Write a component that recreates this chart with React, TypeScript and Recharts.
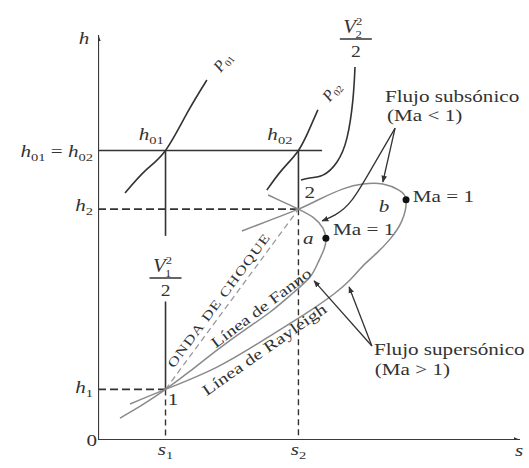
import React from 'react';
import { LineChart, Line, XAxis, YAxis, ReferenceLine, ReferenceDot } from 'recharts';

// States 1 (before the shock) and 2 (after it) on the h-s plane, arbitrary units
const s1 = 1.6;
const s2 = 4.75;
const h1 = 1.25;
const h2 = 5.7;
const h0 = 7.15; // stagnation enthalpy, h01 = h02
const hLineEnd = 5.31;

const fannoLine = [
  { s: 0.52, h: 0.54 }, { s: 1.04, h: 0.86 }, { s: 1.6, h: 1.25 }, { s: 2.18, h: 1.7 },
  { s: 2.82, h: 2.22 }, { s: 3.48, h: 2.72 }, { s: 4.08, h: 3.16 }, { s: 4.62, h: 3.63 },
  { s: 5.02, h: 4.02 }, { s: 5.21, h: 4.37 }, { s: 5.36, h: 4.72 }, { s: 5.4, h: 4.98 },
  { s: 5.33, h: 5.23 }, { s: 5.12, h: 5.48 }, { s: 4.75, h: 5.7 }, { s: 4.38, h: 5.88 },
  { s: 4.03, h: 6.05 },
];

const rayleighLine = [
  { s: 0.76, h: 0.89 }, { s: 1.6, h: 1.25 }, { s: 2.82, h: 1.8 }, { s: 4.0, h: 2.52 },
  { s: 5.02, h: 3.19 }, { s: 5.62, h: 3.63 }, { s: 5.97, h: 3.95 }, { s: 6.28, h: 4.3 },
  { s: 6.61, h: 4.62 }, { s: 6.92, h: 4.96 }, { s: 7.2, h: 5.41 }, { s: 7.3, h: 5.93 },
  { s: 7.13, h: 6.17 }, { s: 6.75, h: 6.32 }, { s: 6.28, h: 6.32 }, { s: 5.81, h: 6.2 },
  { s: 5.26, h: 5.95 }, { s: 4.75, h: 5.7 }, { s: 4.08, h: 5.43 }, { s: 3.41, h: 5.16 },
];

const p01Line = [
  { s: 0.64, h: 6.1 }, { s: 1.11, h: 6.64 }, { s: 1.6, h: 7.15 }, { s: 2.11, h: 8.07 }, { s: 2.58, h: 8.89 },
];
const p02Line = [
  { s: 4.0, h: 6.17 }, { s: 4.36, h: 6.67 }, { s: 4.75, h: 7.15 }, { s: 5.02, h: 7.7 }, { s: 5.21, h: 8.15 },
];
const v2Line = [
  { s: 6.09, h: 9.21 }, { s: 6.04, h: 8.4 }, { s: 5.9, h: 7.46 }, { s: 5.66, h: 6.86 },
  { s: 5.33, h: 6.54 }, { s: 5.02, h: 6.47 }, { s: 4.81, h: 6.42 },
];

// Ma = 1 on the Fanno (a) and Rayleigh (b) lines
const pointA = { s: 5.4, h: 4.98 };
const pointB = { s: 7.3, h: 5.93 };

const subsonicArrows = [
  [{ s: 7.04, h: 7.7 }, { s: 6.75, h: 6.37 }],
  [{ s: 7.04, h: 7.7 }, { s: 6.52, h: 6.77 }, { s: 6.02, h: 5.93 }, { s: 5.62, h: 5.56 }, { s: 5.31, h: 5.41 }],
];
const supersonicArrows = [
  [{ s: 6.49, h: 2.32 }, { s: 5.12, h: 3.93 }],
  [{ s: 6.49, h: 2.32 }, { s: 5.95, h: 3.78 }],
];

const xTicks = [s1, s2];
const yTicks = [0, h1, h2, h0];

const FONT = '"Liberation Serif", "Times New Roman", serif';
const INK = '#333';
const GREY = '#8a8a8a';
const SX = 1.32; // glyphs are set wide

const Sub = ({ t, size = 11 }: { t: string; size?: number }) => (
  <tspan fontSize={size} dy={4}>{t}</tspan>
);

const wide = (x: number, y: number, angle = 0, sx = SX) =>
  `translate(${x} ${y}) rotate(${angle}) scale(${sx} 1)`;

const YTick = ({ x, y, payload }: any) => {
  const v = payload.value;
  const common = { fontFamily: FONT, fontSize: 16, fill: INK, textAnchor: 'end' as const };
  if (v === 0) return <text {...common} transform={wide(x + 4, y + 6)}>0</text>;
  if (v === h0) {
    return (
      <text {...common} transform={wide(x, y + 7)}>
        <tspan fontStyle="italic">h</tspan><Sub t="01" />
        <tspan dy={-4}> = </tspan>
        <tspan fontStyle="italic">h</tspan><Sub t="02" />
      </text>
    );
  }
  return (
    <text {...common} transform={wide(x, y + (v === h2 ? 2 : 4))}>
      <tspan fontStyle="italic">h</tspan><Sub t={v === h1 ? '1' : '2'} />
    </text>
  );
};

const XTick = ({ x, y, payload }: any) => (
  <text fontFamily={FONT} fontSize={16} fill={INK} textAnchor="middle" transform={wide(x, y + 15)}>
    <tspan fontStyle="italic">s</tspan><Sub t={payload.value === s1 ? '1' : '2'} />
  </text>
);

// anchors a piece of text (or any svg) at a point of the h-s plane
const note = (key: string, s: number, h: number, draw: (x: number, y: number) => React.ReactElement) => (
  <ReferenceDot key={key} x={s} y={h} r={0} ifOverflow="visible" shape={(p: any) => draw(p.cx, p.cy)} />
);

const plain = (x: number, y: number, body: React.ReactNode, anchor: 'start' | 'middle' | 'end' = 'start') => (
  <text fontFamily={FONT} fontSize={16} fill={INK} textAnchor={anchor} transform={wide(x, y)}>
    {body}
  </text>
);

const fraction = (x: number, y: number, sub: string) => (
  <g fontFamily={FONT} fill={INK}>
    <text fontSize={18} fontStyle="italic" textAnchor="middle" transform={wide(x - 3, y - 6, 0, 1.15)}>
      V<tspan fontSize={11} fontStyle="normal" dy={-8}>2</tspan>
      <tspan fontSize={11} fontStyle="normal" dx={-6} dy={13}>{sub}</tspan>
    </text>
    <line x1={x - 16} x2={x + 16} y1={y} y2={y} stroke={INK} strokeWidth={1.6} />
    <text fontSize={17} textAnchor="middle" transform={wide(x, y + 18, 0, 1.15)}>2</text>
  </g>
);

// pressure label set along its isobar
const isobar = (x: number, y: number, sub: string) => (
  <g transform={`translate(${x} ${y}) rotate(-52)`}>
    <text x={0} y={5} fontFamily={FONT} fontSize={16} fill={INK} textAnchor="middle">
      <tspan fontStyle="italic">P</tspan><tspan fontSize={10} dy={3}>{sub}</tspan>
    </text>
  </g>
);

const slanted = (x: number, y: number, angle: number, body: string, size: number, spacing = 0) => (
  <text fontFamily={FONT} fontSize={size} fill={INK} textAnchor="middle" dominantBaseline="middle"
    letterSpacing={spacing} transform={wide(x, y, angle, 1.3)}>
    {body}
  </text>
);

const seg = (a: [number, number], b: [number, number]) => [{ x: a[0], y: a[1] }, { x: b[0], y: b[1] }];

export default function App() {
  return (
    <div style={{ position: 'absolute', left: 0, top: 0, background: '#fff' }}>
      <svg width={0} height={0} style={{ position: 'absolute' }}>
        <defs>
          <marker id="arrowHead" viewBox="0 0 10 10" refX="9" refY="5" markerWidth="7" markerHeight="7"
            orient="auto" markerUnits="userSpaceOnUse">
            <path d="M0,1 L10,5 L0,9 z" fill={INK} />
          </marker>
        </defs>
      </svg>
      <LineChart width={529} height={468} margin={{ top: 35, right: 9, bottom: 0, left: 8 }}>
        <XAxis dataKey="s" type="number" domain={[0, 10]} ticks={xTicks} interval={0} allowDataOverflow
          axisLine={false} tickLine={false} tickSize={0} tickMargin={0} height={28} tick={(p: any) => <XTick {...p} />} />
        <YAxis dataKey="h" type="number" domain={[0, 10]} ticks={yTicks} interval={0} allowDataOverflow
          axisLine={false} tickLine={false} tickSize={0} tickMargin={5} width={90} tick={(p: any) => <YTick {...p} />} />

        {/* guide lines at the two states */}
        <ReferenceLine ifOverflow="visible" segment={seg([0, h0], [hLineEnd, h0])} stroke={INK} strokeWidth={1.6} />
        <ReferenceLine ifOverflow="visible" segment={seg([s1, h0], [s1, 5.04])} stroke={INK} strokeWidth={1.6} />
        <ReferenceLine ifOverflow="visible" segment={seg([s1, 3.42], [s1, h1])} stroke={INK} strokeWidth={1.6} />
        <ReferenceLine ifOverflow="visible" segment={seg([s2, h0], [s2, h2])} stroke={INK} strokeWidth={1.6} />
        <ReferenceLine ifOverflow="visible" segment={seg([0, h2], [s2, h2])} stroke={INK} strokeWidth={1.6} strokeDasharray="8 4" />
        <ReferenceLine ifOverflow="visible" segment={seg([0, h1], [s1, h1])} stroke={INK} strokeWidth={1.6} strokeDasharray="8 4" />
        <ReferenceLine ifOverflow="visible" segment={seg([s1, h1], [s1, 0])} stroke={INK} strokeWidth={1.4} strokeDasharray="6 4" />
        <ReferenceLine ifOverflow="visible" segment={seg([s2, h2], [s2, 0])} stroke={INK} strokeWidth={1.4} strokeDasharray="6 4" />
        <ReferenceLine ifOverflow="visible" segment={seg([s1, h1], [s2, h2])} stroke="#9a9a9a" strokeWidth={1.3} strokeDasharray="6 4" />

        {/* axes with arrow tips */}
        <Line data={[{ s: 0, h: 0 }, { s: 0, h: 10 }]} dataKey="h" type="linear" stroke="#3a3a3a" strokeWidth={2.2}
          dot={false} activeDot={false} isAnimationActive={false} markerEnd="url(#arrowHead)" />
        <Line data={[{ s: 0, h: 0 }, { s: 10, h: 0 }]} dataKey="h" type="linear" stroke="#3a3a3a" strokeWidth={2.2}
          dot={false} activeDot={false} isAnimationActive={false} markerEnd="url(#arrowHead)" />

        <Line data={fannoLine} dataKey="h" type="natural" stroke={GREY} strokeWidth={1.5} dot={false} activeDot={false} isAnimationActive={false} />
        <Line data={rayleighLine} dataKey="h" type="natural" stroke={GREY} strokeWidth={1.5} dot={false} activeDot={false} isAnimationActive={false} />
        <Line data={p01Line} dataKey="h" type="natural" stroke={INK} strokeWidth={1.6} dot={false} activeDot={false} isAnimationActive={false} />
        <Line data={p02Line} dataKey="h" type="natural" stroke={INK} strokeWidth={1.6} dot={false} activeDot={false} isAnimationActive={false} />
        <Line data={v2Line} dataKey="h" type="natural" stroke={INK} strokeWidth={1.6} dot={false} activeDot={false} isAnimationActive={false} />

        {[...subsonicArrows, ...supersonicArrows].map((arrow, i) => (
          <Line key={`arrow-${i}`} data={arrow} dataKey="h" type="natural" stroke={INK} strokeWidth={1.3}
            dot={false} activeDot={false} isAnimationActive={false} markerEnd="url(#arrowHead)" />
        ))}

        <ReferenceDot x={pointA.s} y={pointA.h} r={3.5} fill="#111" stroke="none" />
        <ReferenceDot x={pointB.s} y={pointB.h} r={3.5} fill="#111" stroke="none" />

        {note('hAxis', -0.33, 9.78, (x, y) => plain(x, y, <tspan fontStyle="italic">h</tspan>, 'middle'))}
        {note('sAxis', 9.98, -0.4, (x, y) => plain(x, y, <tspan fontStyle="italic">s</tspan>, 'middle'))}
        {note('h01', 1.26, 7.41, (x, y) => plain(x, y, <><tspan fontStyle="italic">h</tspan><Sub t="01" /></>, 'middle'))}
        {note('h02', 4.31, 7.41, (x, y) => plain(x, y, <><tspan fontStyle="italic">h</tspan><Sub t="02" /></>, 'middle'))}
        {note('p01', 2.96, 9.33, (x, y) => isobar(x, y, '01'))}
        {note('p02', 5.54, 8.6, (x, y) => isobar(x, y, '02'))}
        {note('v2', 6.11, 9.9, (x, y) => fraction(x, y, '2'))}
        {note('v1', s1, 4.0, (x, y) => fraction(x, y, '1'))}
        {note('st1', 1.78, 0.86, (x, y) => plain(x, y, '1', 'middle'))}
        {note('st2', 5.02, 5.98, (x, y) => plain(x, y, '2', 'middle'))}
        {note('a', 4.98, 4.84, (x, y) => plain(x, y, <tspan fontStyle="italic">a</tspan>, 'middle'))}
        {note('b', 6.78, 5.63, (x, y) => plain(x, y, <tspan fontStyle="italic">b</tspan>, 'middle'))}
        {note('maA', 5.57, 5.06, (x, y) => plain(x, y, 'Ma = 1'))}
        {note('maB', 7.46, 5.88, (x, y) => plain(x, y, 'Ma = 1'))}
        {note('sub1', 6.8, 8.35, (x, y) => plain(x, y, 'Flujo subsónico'))}
        {note('sub2', 6.85, 7.88, (x, y) => plain(x, y, '(Ma < 1)'))}
        {note('sup1', 6.54, 2.1, (x, y) => plain(x, y, 'Flujo supersónico'))}
        {note('sup2', 6.56, 1.6, (x, y) => plain(x, y, '(Ma > 1)'))}
        {note('shock', 2.89, 3.43, (x, y) => slanted(x, y, -53.5, 'ONDA DE CHOQUE', 13, 0.8))}
        {note('fanno', 3.89, 3.23, (x, y) => slanted(x, y, -37, 'Línea de Fanno', 15))}
        {note('rayleigh', 3.96, 2.2, (x, y) => slanted(x, y, -35, 'Línea de Rayleigh', 15.5))}
      </LineChart>
    </div>
  );
}
